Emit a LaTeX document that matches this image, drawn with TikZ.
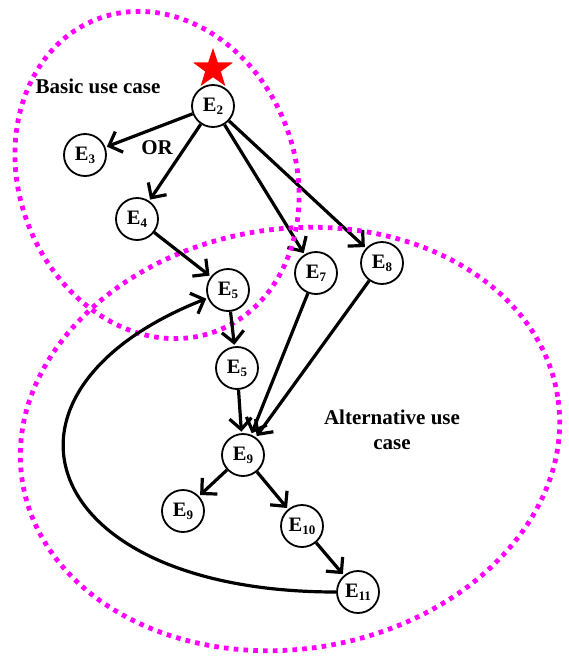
\documentclass[tikz,border=0pt]{standalone}
\usepackage{fontspec}
\setmainfont{Liberation Serif}
\usetikzlibrary{arrows.meta,shapes.geometric}
\definecolor{zonec}{RGB}{255,0,255}
\definecolor{starc}{RGB}{255,0,0}
\newcommand{\En}[1]{E\raisebox{-0.35ex}{\fontsize{13}{13}\selectfont #1}}
\begin{document}
\begin{tikzpicture}[x=1pt,y=-1pt,
  ev/.style={circle,draw,line width=1.8pt,minimum size=42pt,inner sep=0pt,
             font=\bfseries\fontsize{20.5}{22}\selectfont},
  arr/.style={line width=3.2pt,-{Straight Barb[length=11pt,width=22pt]},shorten >=1.5pt},
  zone/.style={draw=zonec,line width=4.8pt,dash pattern=on 4.6pt off 5.2pt},
  lbl/.style={font=\bfseries\fontsize{21}{25}\selectfont,align=center,inner sep=0pt}]
\path[use as bounding box] (0,0) rectangle (569,656);

% nodes
\node[ev] (E2)  at (213,106) {\En{2}};
\node[ev] (E3)  at (85,155)  {\En{3}};
\node[ev] (E4)  at (137,219) {\En{4}};
\node[ev] (E5a) at (228,290) {\En{5}};
\node[ev] (E7)  at (316,273) {\En{7}};
\node[ev] (E8)  at (382,263) {\En{8}};
\node[ev] (E5b) at (237,368) {\En{5}};
\node[ev] (E9)  at (243,455) {\En{9}};
\node[ev] (E9b) at (183,511) {\En{9}};
\node[ev] (E10) at (302,526) {\En{10}};
\node[ev] (E11) at (358,592) {\En{11}};

\node[star,star points=5,star point ratio=2.55,fill=starc,minimum size=42pt,inner sep=0pt] (star) at (213,69) {};

\node[lbl] (basic) at (98,86) {Basic use case};
\node[lbl] (or) at (157,148) {OR};
\node[lbl] (alt) at (392,430) {Alternative use\\case};

% edges from E2
\draw[arr] (E2) -- (E3);
\draw[arr] (E2) -- (E4);
\draw[arr] (E2) -- (E7);
\draw[arr] (E2) -- (E8);

% zones
\draw[zone] [rotate around={21:(157,175)}] (157,175) ellipse [x radius=138pt, y radius=167pt];
\draw[zone] [rotate around={9:(290,439)}] (290,439) ellipse [x radius=271pt, y radius=210pt];

% other edges
\draw[arr] (E4) -- (E5a);
\draw[arr] (E5a) -- (E5b);
\draw[arr] (E5b) -- (E9);
\draw[arr] (E7) -- (E9);
\draw[arr] (E8) -- (E9);
\draw[arr] (E9) -- (E9b);
\draw[arr] (E9) -- (E10);
\draw[arr] (E10) -- (E11);
\draw[arr] (E11.west) .. controls (37,592) and (-29.5,392) .. (E5a);
\end{tikzpicture}
\end{document}
